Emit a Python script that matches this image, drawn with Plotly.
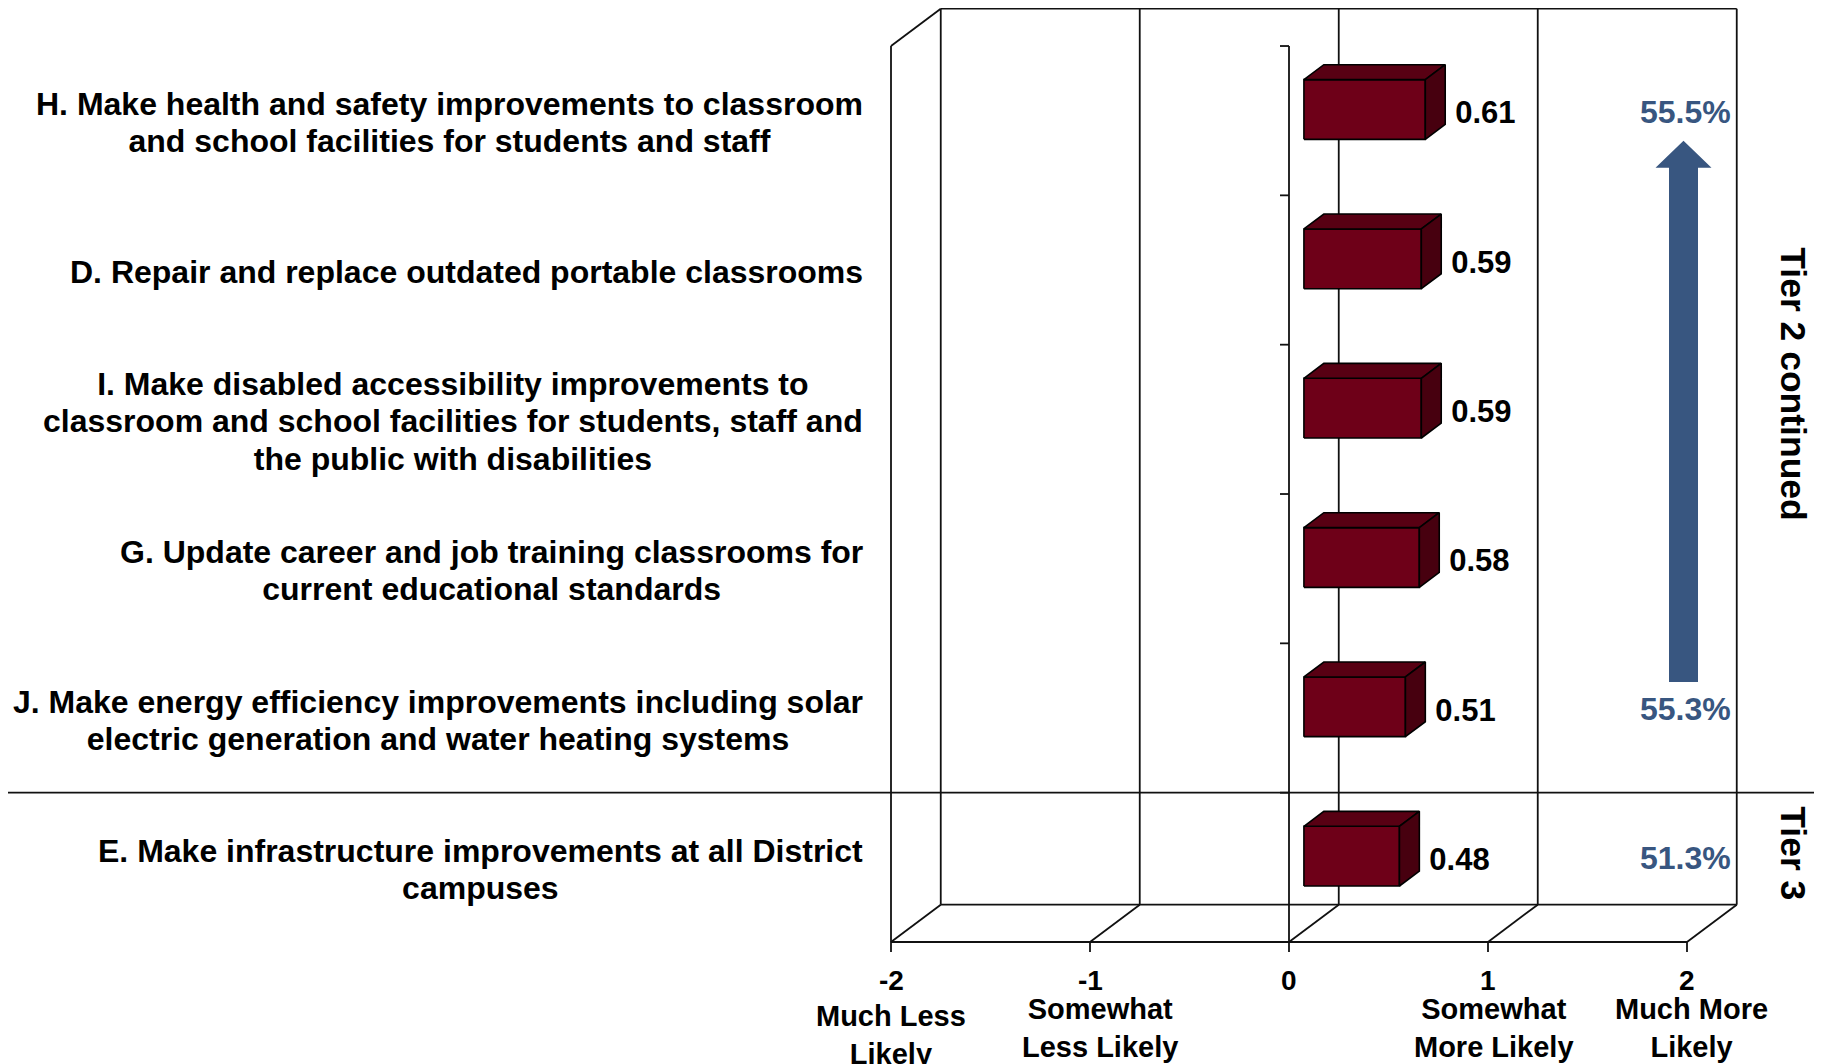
import plotly.graph_objects as go

# ---------------- data ----------------
categories = [
    "H. Make health and safety improvements to classroom<br>and school facilities for students and staff",
    "D. Repair and replace outdated portable classrooms",
    "I. Make disabled accessibility improvements to<br>classroom and school facilities for students, staff and<br>the public with disabilities",
    "G. Update career and job training classrooms for<br>current educational standards",
    "J. Make energy efficiency improvements including solar<br>electric generation and water heating systems",
    "E. Make infrastructure improvements at all District<br>campuses",
]
values = [0.61, 0.59, 0.59, 0.58, 0.51, 0.48]

x_tick_values = [-2, -1, 0, 1, 2]
x_tick_words = ["Much Less<br>Likely", "Somewhat<br>Less Likely", "", "Somewhat<br>More Likely", "Much More<br>Likely"]

pct_labels = {0: "55.5%", 4: "55.3%", 5: "51.3%"}   # category index -> share
tier_labels = ["Tier 2 continued", "Tier 3"]
tier_split = 5  # first category index of Tier 3

# ---------------- geometry / style ----------------
W, H = 1822, 1064
PAGE_OFFSET = 8     # the page body margin
PX_X = 199.0        # pixels per value unit
PX_Y = 149.33       # pixels per category slot
FRONT_LEFT_PX = 891 - PAGE_OFFSET
FRONT_BOTTOM_PX = 942 - PAGE_OFFSET
XMIN, XMAX = -2, 2
N = len(categories)
DX, DY = 0.25, 0.25         # depth of the 3-D box (x units, category units)
BAR_H = 0.40
BAR_D0, BAR_D1 = 0.3, 0.7   # bar occupies this fraction of the depth

x0_rng = XMIN - FRONT_LEFT_PX / PX_X
x1_rng = x0_rng + W / PX_X
y0_rng = -(H - FRONT_BOTTOM_PX) / PX_Y
y1_rng = y0_rng + H / PX_Y

FONT = "Liberation Sans, Arial, sans-serif"
LINE = "#111111"
FRONT_C, TOP_C, SIDE_C = "#6e0018", "#580013", "#47000f"
BLUE = "#385680"

def cat_center(i):
    return N - i - 0.5

def px2x(px):
    return px / PX_X

def px2y(px):
    return px / PX_Y

fig = go.Figure()
shapes = []

def seg(xa, ya, xb, yb, color=LINE, width=1.8):
    shapes.append(dict(type="line", x0=xa, y0=ya, x1=xb, y1=yb, xref="x", yref="y",
                       line=dict(color=color, width=width), layer="below"))

# back wall gridlines and top edge
for k in x_tick_values:
    seg(k + DX, DY, k + DX, N + DY)
seg(XMIN + DX, N + DY, XMAX + DX, N + DY)
# left wall
seg(XMIN, 0, XMIN, N)
seg(XMIN, N, XMIN + DX, N + DY)
# floor
seg(XMIN, 0, XMAX, 0)
seg(XMIN + DX, DY, XMAX + DX, DY)
for k in x_tick_values:
    seg(k, 0, k + DX, DY)
    seg(k, 0, k, -px2y(10))          # tick marks
# category axis at zero
seg(0, 0, 0, N)
for j in range(N + 1):
    seg(-px2x(9), j, 0, j)
# tier divider across the whole picture
shapes.append(dict(type="line", x0=0, x1=1, xref="paper", y0=N - tier_split, y1=N - tier_split,
                   yref="y", line=dict(color=LINE, width=1.6), layer="above"))

# ---------------- 3-D bars ----------------
fx, fy, tx, ty, sx, sy = [], [], [], [], [], []
ox, oy = BAR_D0 * DX, BAR_D0 * DY
bdx, bdy = (BAR_D1 - BAR_D0) * DX, (BAR_D1 - BAR_D0) * DY
lab_x, lab_y, lab_t = [], [], []
for i, v in enumerate(values):
    yc = cat_center(i) + oy
    xa, xb = ox, ox + v
    ya, yb = yc - BAR_H / 2, yc + BAR_H / 2
    fx += [xa, xb, xb, xa, xa, None]; fy += [ya, ya, yb, yb, ya, None]
    tx += [xa, xb, xb + bdx, xa + bdx, xa, None]; ty += [yb, yb, yb + bdy, yb + bdy, yb, None]
    sx += [xb, xb + bdx, xb + bdx, xb, xb, None]; sy += [ya, ya + bdy, yb + bdy, yb, ya, None]
    lab_x.append(xb + bdx + px2x(10)); lab_y.append(cat_center(i) + px2y(5)); lab_t.append(f"{v:.2f}")

for xs, ys, c in [(fx, fy, FRONT_C), (tx, ty, TOP_C), (sx, sy, SIDE_C)]:
    fig.add_trace(go.Scatter(x=xs, y=ys, mode="lines", fill="toself", fillcolor=c,
                             line=dict(color="#000000", width=1.6), hoverinfo="skip",
                             showlegend=False))

fig.add_trace(go.Scatter(x=lab_x, y=lab_y, mode="text", text=lab_t, textposition="middle right",
                         textfont=dict(family=FONT, size=31, color="#000000", weight="bold"),
                         hoverinfo="skip", showlegend=False))

annotations = []
# category labels
for i, c in enumerate(categories):
    lines = c.split("<br>")
    txt = "<br>".join(f"<span style='font-size:32px'>{ln}</span>" for ln in lines)
    annotations.append(dict(x=XMIN - px2x(26.5), y=cat_center(i) - px2y(2), xref="x", yref="y",
                            text=txt, showarrow=False, xanchor="right", yanchor="middle",
                            align="center", font=dict(family=FONT, size=28.8, color="#000000",
                                                      weight="bold")))
# x tick labels
word_dx = {-2: 0.0, -1: 0.05, 0: 0.0, 1: 0.03, 2: 0.025}
word_dy = {-2: -px2y(7), -1: 0, 0: 0, 1: 0, 2: 0}
for k, wds in zip(x_tick_values, x_tick_words):
    annotations.append(dict(x=k, y=-px2y(38), xref="x", yref="y", text=str(k), showarrow=False,
                            xanchor="center", yanchor="middle",
                            font=dict(family=FONT, size=28, color="#000000", weight="bold")))
    if wds:
        annotations.append(dict(x=k + word_dx[k], y=-px2y(86) + word_dy[k], xref="x", yref="y",
                                text=wds, showarrow=False, xanchor="center", yanchor="middle",
                                align="center",
                                font=dict(family=FONT, size=29, color="#000000", weight="bold")))
# percent labels
for i, t in pct_labels.items():
    annotations.append(dict(x=XMAX + DX - px2x(4), y=cat_center(i) + px2y(9), xref="x", yref="y",
                            text=t, showarrow=False, xanchor="right", yanchor="middle",
                            font=dict(family=FONT, size=32, color=BLUE, weight="bold")))

# block arrow between the two Tier-2 percentages
ax_c = XMAX - px2x(3.5)
y_bot = cat_center(tier_split - 1) + px2y(10) + px2y(26)
y_tip = cat_center(0) + px2y(10) - px2y(30)
y_head = y_tip - px2y(27)
hw, sw = px2x(28), px2x(14.5)
arrow_path = (f"M {ax_c - sw},{y_bot} L {ax_c + sw},{y_bot} L {ax_c + sw},{y_head} "
              f"L {ax_c + hw},{y_head} L {ax_c},{y_tip} L {ax_c - hw},{y_head} "
              f"L {ax_c - sw},{y_head} Z")
shapes.append(dict(type="path", path=arrow_path, xref="x", yref="y", fillcolor=BLUE,
                   line=dict(width=0), layer="above"))

# tier labels (rotated)
tier_x = XMAX + DX + px2x(56)
annotations.append(dict(x=tier_x, y=px2y(558), xref="x", yref="y",
                        text=tier_labels[0], textangle=90, showarrow=False,
                        xanchor="center", yanchor="middle",
                        font=dict(family=FONT, size=35.5, color="#000000", weight="bold")))
annotations.append(dict(x=tier_x, y=px2y(89), xref="x", yref="y",
                        text=tier_labels[1], textangle=90, showarrow=False,
                        xanchor="center", yanchor="middle",
                        font=dict(family=FONT, size=35.5, color="#000000", weight="bold")))

fig.update_layout(
    width=W, height=H,
    margin=dict(l=0, r=0, t=0, b=0),
    paper_bgcolor="white", plot_bgcolor="white",
    xaxis=dict(range=[x0_rng, x1_rng], visible=False, fixedrange=True),
    yaxis=dict(range=[y0_rng, y1_rng], visible=False, fixedrange=True),
    shapes=shapes, annotations=annotations,
    hovermode=False, showlegend=False,
)

fig.write_html("out.html")
